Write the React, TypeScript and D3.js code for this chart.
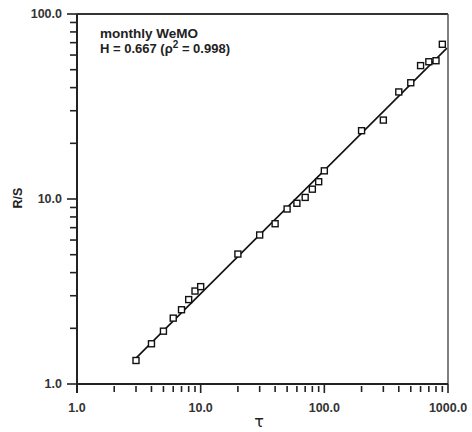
import React from "react";
import * as d3 from "d3";

const tau = [3, 4, 5, 6, 7, 8, 9, 10, 20, 30, 40, 50, 60, 70, 80, 90, 100, 200, 300, 400, 500, 600, 700, 800, 900];
const rs = [1.34, 1.65, 1.93, 2.27, 2.52, 2.86, 3.18, 3.36, 5.04, 6.39, 7.35, 8.83, 9.48, 10.2, 11.3, 12.4, 14.2, 23.4, 26.7, 37.9, 42.5, 52.6, 55.2, 55.9, 68.6];
const fitTau = [3, 980];
const fitRS = [1.38, 65.4];
const xTicks = [1, 10, 100, 1000];
const yTicks = [1, 10, 100];
const title = "monthly WeMO";

const W = 472, H = 432;
const L = 77, R = 448, T = 14, B = 384;

export default function App() {
  const x = d3.scaleLog().domain([1, 1000]).range([L, R]);
  const y = d3.scaleLog().domain([1, 100]).range([B, T]);
  const xMinor: number[] = [];
  for (let d = 1; d < 1000; d *= 10) for (let k = 2; k <= 9; k++) xMinor.push(d * k);
  const yMinor: number[] = [];
  for (let d = 1; d < 100; d *= 10) for (let k = 2; k <= 9; k++) yMinor.push(d * k);
  const line = d3.line<number>().x((_, i) => x(fitTau[i])).y((v) => y(v));
  const font = "'Liberation Sans', Arial, sans-serif";
  const fmt = (v: number) => v.toFixed(1);
  return (
    <svg width={W} height={H} style={{ position: "fixed", left: 0, top: 0, background: "#fff" }} fontFamily={font}>
      <rect x={0} y={0} width={W} height={H} fill="#fff" />
      {/* frame */}
      <line x1={L} x2={R} y1={T} y2={T} stroke="#333" strokeWidth={2} />
      <line x1={R} x2={R} y1={T} y2={B} stroke="#555" strokeWidth={1.5} />
      <line x1={L} x2={R} y1={B} y2={B} stroke="#222" strokeWidth={2} />
      <line x1={L} x2={L} y1={T} y2={B + 9} stroke="#222" strokeWidth={2} />
      {/* y ticks */}
      {yTicks.map((v) => (
        <g key={"yt" + v}>
          <line x1={L - 10} x2={L} y1={y(v)} y2={y(v)} stroke="#222" strokeWidth={1.6} />
          <text x={L - 15} y={y(v)} dy="0.35em" textAnchor="end" fontSize={12.5} fontWeight="bold" fill="#333">{fmt(v)}</text>
        </g>
      ))}
      {yMinor.map((v) => (
        <line key={"ym" + v} x1={L - 7} x2={L} y1={y(v)} y2={y(v)} stroke="#222" strokeWidth={1.6} />
      ))}
      {/* x ticks */}
      {xTicks.map((v) => (
        <g key={"xt" + v}>
          <line x1={x(v)} x2={x(v)} y1={B} y2={B + 9} stroke="#222" strokeWidth={1.6} />
          <text x={x(v)} y={B + 28} textAnchor="middle" fontSize={12.5} fontWeight="bold" fill="#333">{fmt(v)}</text>
        </g>
      ))}
      {xMinor.map((v) => (
        <line key={"xm" + v} x1={x(v)} x2={x(v)} y1={B + 2} y2={B + 8} stroke="#222" strokeWidth={1.6} />
      ))}
      {/* fit line */}
      <path d={line(fitRS) || ""} fill="none" stroke="#111" strokeWidth={1.6} />
      {/* points */}
      {tau.map((t, i) => (
        <rect key={"p" + i} x={x(t) - 3} y={y(rs[i]) - 3} width={6} height={6} fill="#fff" stroke="#111" strokeWidth={1.4} />
      ))}
      {/* annotation */}
      <text x={100} y={37.5} fontSize={13.5} fontWeight="bold" fill="#222">{title}</text>
      <text x={100} y={53} fontSize={13} fontWeight="bold" fill="#222">
        H = 0.667 (ρ<tspan dy={-5} fontSize={10}>2</tspan><tspan dy={5}> = 0.998)</tspan>
      </text>
      {/* axis labels */}
      <text transform={`translate(22,${198}) rotate(-90)`} textAnchor="middle" fontSize={12.5} fontWeight="bold" fill="#222">R/S</text>
      <text x={259} y={427} textAnchor="middle" fontSize={16} fill="#222" fontFamily="'DejaVu Sans', sans-serif">τ</text>
    </svg>
  );
}
